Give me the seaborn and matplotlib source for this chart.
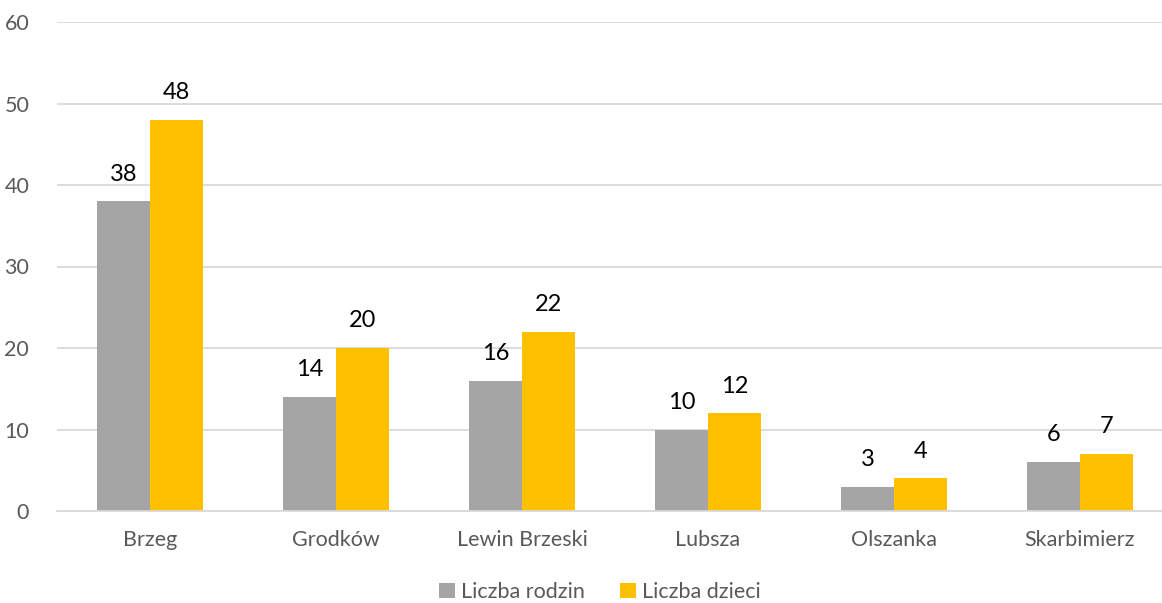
import pandas as pd
import seaborn as sns
import matplotlib.pyplot as plt
from matplotlib.ticker import FixedLocator

# dane z wykresu
gminy = ['Brzeg', 'Grodków', 'Lewin Brzeski', 'Lubsza', 'Olszanka', 'Skarbimierz']
liczba_rodzin = [38, 14, 16, 10, 3, 6]
liczba_dzieci = [48, 20, 22, 12, 4, 7]
serie = ['Liczba rodzin', 'Liczba dzieci']
kolory = ['#A5A5A5', '#FFC000']

df = pd.DataFrame({
    'gmina': gminy * 2,
    'seria': [serie[0]] * len(gminy) + [serie[1]] * len(gminy),
    'wartosc': liczba_rodzin + liczba_dzieci,
})

sns.set_style('white')
plt.rcParams['font.family'] = ['Lato', 'DejaVu Sans']

fig = plt.figure(figsize=(11.62, 6.03), dpi=100)
ax = fig.add_axes([57 / 1162, 92 / 603, 1116 / 1162, 489 / 603])

sns.barplot(data=df, x='gmina', y='wartosc', hue='seria', palette=kolory,
            width=0.57, saturation=1, linewidth=0, ax=ax, legend=True)

# etykiety danych
for cont in ax.containers:
    ax.bar_label(cont, fontsize=17, color='black', padding=12)

ax.set_ylim(0, 60)
ax.set_xlim(-0.5, len(gminy) - 0.5)
ax.set_yticks(range(0, 61, 10))
ax.yaxis.grid(True, color='#D9D9D9', linewidth=1.3)
ax.set_axisbelow(True)
for s in ['top', 'right', 'left']:
    ax.spines[s].set_visible(False)
ax.spines['bottom'].set_color('#D9D9D9')
ax.spines['bottom'].set_linewidth(1.3)

ax.tick_params(axis='y', length=0, labelsize=15.5, labelcolor='#595959', pad=20)
ax.tick_params(axis='x', which='major', length=0, labelsize=15.5, labelcolor='#595959', pad=14)
ax.xaxis.set_minor_locator(FixedLocator([i - 0.5 for i in range(len(gminy) + 1)]))
ax.tick_params(axis='x', which='minor', length=6, width=1.3, color='#D9D9D9')
ax.set_xlabel('')
ax.set_ylabel('')

leg = ax.legend(loc='center', bbox_to_anchor=(0.5 - 15 / 1116, -81 / 489), ncol=2,
                frameon=False, fontsize=15.5, handlelength=0.75, handleheight=0.75,
                handletextpad=0.3, columnspacing=1.6)
for t in leg.get_texts():
    t.set_color('#595959')

fig.savefig('out.png', dpi=100)
